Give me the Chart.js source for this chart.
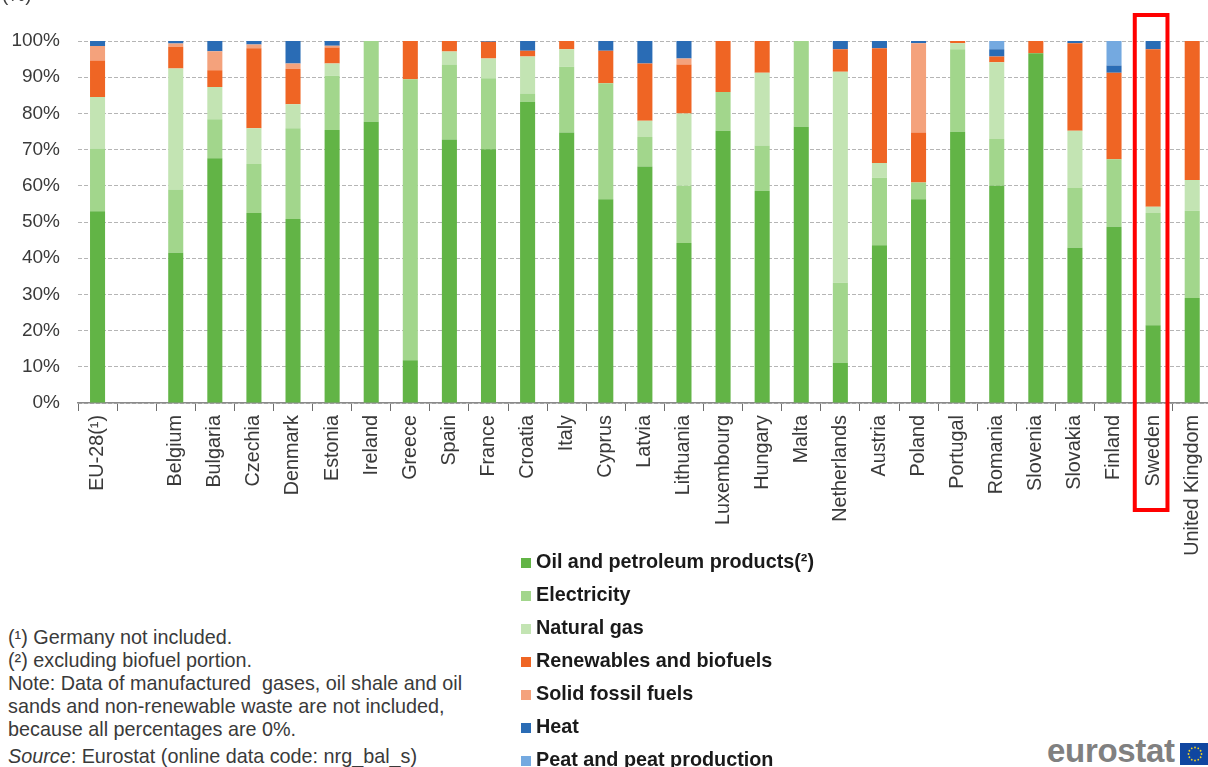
<!DOCTYPE html>
<html>
<head>
<meta charset="utf-8">
<script src="https://cdn.jsdelivr.net/npm/chart.js@4.4.1/dist/chart.umd.min.js"></script>
<style>
  html, body { margin:0; padding:0; background:#fff; overflow:hidden; width:1208px; height:767px; }
  #wrap { position:relative; width:1208px; height:767px; overflow:hidden; font-family:"Liberation Sans", Arial, sans-serif; }
  #c { position:absolute; left:0; top:0; }
  .unit { position:absolute; left:2px; top:-16px; font-size:19px; color:#404040; }
  .legend { position:absolute; left:521px; top:545px; }
  .legend .row { position:relative; height:33px; line-height:33px; font-size:19.8px; font-weight:bold; color:#1a1a1a; padding-left:15px; white-space:nowrap; }
  .legend .sw { position:absolute; left:0; top:13px; width:10px; height:10px; }
  .notes { position:absolute; left:8px; top:626px; font-size:19.8px; line-height:23px; color:#3a3a3a; white-space:pre; }
  .source { position:absolute; left:8px; top:745px; font-size:19.8px; line-height:23px; color:#3a3a3a; white-space:pre; }
  .logo { position:absolute; left:1047px; top:733px; font-size:33px; font-weight:bold; color:#808080; letter-spacing:-0.3px; line-height:36px; }
  .flag { position:absolute; left:1180px; top:743px; }
</style>
</head>
<body>
<div id="wrap">
  <canvas id="c" width="1220" height="560"></canvas>
  <div class="unit">(%)</div>
  <div class="legend" id="legend"></div>
  <div class="notes">(¹) Germany not included.
(²) excluding biofuel portion.
Note: Data of manufactured  gases, oil shale and oil
sands and non-renewable waste are not included,
because all percentages are 0%.</div>
  <div class="source"><i>Source</i>: Eurostat (online data code: nrg_bal_s)</div>
  <div class="logo">eurostat</div>
  <svg class="flag" width="30" height="22" viewBox="0 0 30 22">
    <rect x="0" y="0" width="30" height="22" fill="#1046a0"/>
    <g fill="#f5d320" id="stars"></g>
  </svg>
</div>
<script>
// ---------- data ----------
const categories = ["EU-28(¹)", "", "Belgium", "Bulgaria", "Czechia", "Denmark", "Estonia", "Ireland", "Greece", "Spain", "France", "Croatia", "Italy", "Cyprus", "Latvia", "Lithuania", "Luxembourg", "Hungary", "Malta", "Netherlands", "Austria", "Poland", "Portugal", "Romania", "Slovenia", "Slovakia", "Finland", "Sweden", "United Kingdom"];

const seriesNames = ["Oil and petroleum products(²)", "Electricity", "Natural gas", "Renewables and biofuels", "Solid fossil fuels", "Heat", "Peat and peat production"];

const oilValues   = [53.0, null, 41.5, 67.6, 52.5, 50.8, 75.4, 77.7, 11.8, 72.8, 70.1, 83.2, 74.7, 56.3, 65.3, 44.2, 75.2, 58.6, 76.3, 11.1, 43.6, 56.3, 74.9, 60.0, 96.6, 42.9, 48.7, 21.5, 29.0];
const elecValues  = [17.3, null, 17.5, 10.8, 13.5, 25.1, 15.0, 22.3, 77.6, 20.7, 19.6, 2.3, 18.2, 32.0, 8.2, 15.8, 10.7, 12.5, 23.7, 22.1, 18.6, 4.6, 22.8, 12.9, 0, 16.5, 18.6, 31.0, 24.1];
const gasValues   = [14.2, null, 33.4, 8.9, 9.9, 6.6, 3.4, 0, 0, 3.6, 5.5, 10.2, 4.8, 0, 4.5, 20.0, 0, 20.1, 0, 58.3, 4.1, 0, 1.7, 21.2, 0, 15.8, 0, 1.7, 8.5];
const renewValues = [10.1, null, 6.0, 4.6, 22.1, 9.8, 4.4, 0, 10.6, 2.9, 4.6, 1.6, 2.3, 9.0, 15.8, 13.5, 14.1, 8.8, 0, 6.2, 31.7, 13.8, 0.6, 1.6, 3.4, 24.2, 23.9, 43.5, 38.4];
const solidValues = [4.0, null, 0.9, 5.3, 1.0, 1.5, 0.5, 0, 0, 0, 0, 0, 0, 0, 0, 1.7, 0, 0, 0, 0, 0, 24.7, 0, 0, 0, 0, 0, 0, 0];
const heatValues  = [1.4, null, 0.7, 2.8, 1.0, 6.2, 1.3, 0, 0, 0, 0.2, 2.7, 0, 2.7, 6.2, 4.8, 0, 0, 0, 2.3, 2.0, 0.6, 0, 2.0, 0, 0.6, 2.0, 2.3, 0];
const peatValues  = [0, null, 0, 0, 0, 0, 0, 0, 0, 0, 0, 0, 0, 0, 0, 0, 0, 0, 0, 0, 0, 0, 0, 2.3, 0, 0, 6.8, 0, 0];

const seriesColors = ["#62b446", "#a2d68c", "#c3e4b3", "#ef6524", "#f4a27c", "#2a6cb5", "#74a9e0"];
const yTicks = [0, 10, 20, 30, 40, 50, 60, 70, 80, 90, 100];
const highlightCategory = "Sweden";

// ---------- build ----------
const seriesValues = [oilValues, elecValues, gasValues, renewValues, solidValues, heatValues, peatValues];
const datasets = seriesNames.map((n, i) => ({
  label: n,
  data: seriesValues[i],
  backgroundColor: seriesColors[i],
  borderWidth: 0,
  barPercentage: 0.385,
  categoryPercentage: 1.0,
  stack: 's'
}));

// legend
const lg = document.getElementById('legend');
seriesNames.forEach((n, i) => {
  const r = document.createElement('div'); r.className = 'row';
  const s = document.createElement('span'); s.className = 'sw'; s.style.background = seriesColors[i];
  r.appendChild(s); r.appendChild(document.createTextNode(n));
  lg.appendChild(r);
});

// EU flag stars
const starsG = document.getElementById('stars');
for (let k = 0; k < 12; k++) {
  const a = k * Math.PI / 6;
  const c = document.createElementNS('http://www.w3.org/2000/svg', 'circle');
  c.setAttribute('cx', (15 + 6.5 * Math.cos(a)).toFixed(2));
  c.setAttribute('cy', (11 + 6.5 * Math.sin(a)).toFixed(2));
  c.setAttribute('r', '0.9');
  starsG.appendChild(c);
}

const highlightPlugin = {
  id: 'highlightBox',
  afterDraw(chart) {
    const xs = chart.scales.x;
    const idx = categories.indexOf(highlightCategory);
    if (idx < 0) return;
    const cx = xs.getPixelForValue(idx) - 2;
    const half = (xs.getPixelForValue(1) - xs.getPixelForValue(0)) / 2 - 1.2;
    const ctx = chart.ctx;
    ctx.save();
    ctx.strokeStyle = '#ff0000';
    ctx.lineWidth = 4;
    const top = chart.chartArea.top - 26;
    const bottom = chart.chartArea.bottom + 107;
    ctx.strokeRect(cx - half + 2, top, 2 * half - 4, bottom - top);
    ctx.restore();
  }
};

const FONT = "'Liberation Sans', Arial, sans-serif";

new Chart(document.getElementById('c'), {
  type: 'bar',
  data: { labels: categories, datasets },
  options: {
    responsive: false,
    animation: false,
    devicePixelRatio: 1,
    layout: { padding: { top: 41, right: 1.3, left: 0, bottom: 0 } },
    plugins: { legend: { display: false }, tooltip: { enabled: false } },
    scales: {
      x: {
        stacked: true,
        offset: true,
        grid: { display: true, drawOnChartArea: false, drawTicks: true, tickLength: 8, color: '#6e6e6e', lineWidth: 1, offset: true },
        border: { display: true, color: '#8a8a8a', width: 1.5 },
        ticks: { autoSkip: false, minRotation: 90, maxRotation: 90, padding: 4, color: '#3a3a3a', font: { family: FONT, size: 19.8 } },
        afterFit(s) { s.height = 560 - 403; }
      },
      y: {
        stacked: true,
        min: 0, max: 100,
        afterBuildTicks(s) { s.ticks = yTicks.map(v => ({ value: v })); },
        grid: { display: true, drawTicks: false, color: '#b5b5b5', lineWidth: 1, borderDash: [4, 2] },
        border: { display: false, dash: [4, 2] },
        ticks: { padding: 18, color: '#3a3a3a', font: { family: FONT, size: 19 }, callback: v => v + '%' },
        afterFit(s) { s.width = 78; }
      }
    }
  },
  plugins: [highlightPlugin]
});
</script>
</body>
</html>
